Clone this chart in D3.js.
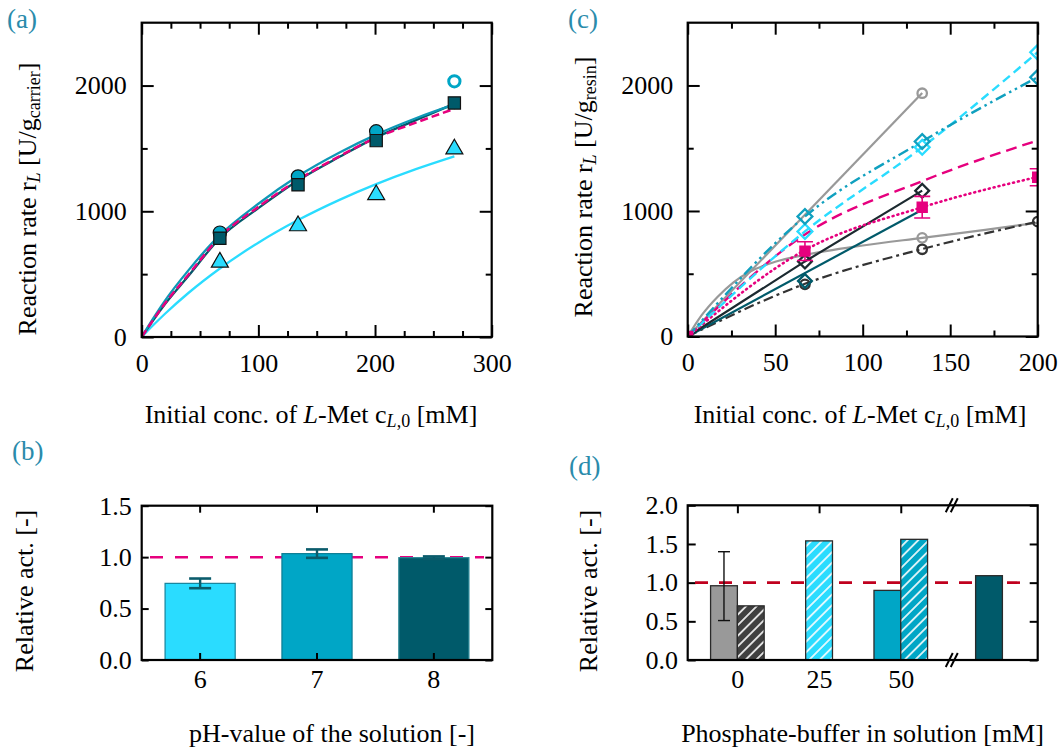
<!DOCTYPE html>
<html><head><meta charset="utf-8">
<script src="https://cdn.jsdelivr.net/npm/d3@7"></script>
<style>
html,body{margin:0;padding:0;background:#fff;}
svg{display:block;}
svg text{font-family:"Liberation Serif","Times New Roman",serif !important;}
</style></head><body>
<svg id="fig" width="1064" height="752"></svg>
<script>
// ---------- data ----------
// (a) activity per gram carrier vs initial L-Met concentration
const aMeasX = [67, 134, 201, 268];
const aCircleRates = [830, 1277, 1636, 2034];   // last point is an outlier (open symbol)
const aSquareRates = [786, 1211, 1562, 1862];
const aTriangleRates = [595, 884, 1131, 1495];
const aFitX = [0, 10, 20, 40, 67, 100, 134, 170, 201, 235, 268];
const aFitTeal = [0, 150, 290, 530, 810, 1060, 1280, 1470, 1610, 1740, 1850];
const aFitDark = [0, 135, 262, 485, 786, 1025, 1245, 1435, 1588, 1725, 1855];
const aFitMagenta = [0, 138, 268, 495, 795, 1035, 1250, 1440, 1585, 1705, 1815];
const aFitLight = [0, 95, 185, 350, 545, 750, 930, 1093, 1216, 1335, 1437];

// (c) activity per gram resin
const cFitX = [0, 67, 134, 200];
const cGrayLineX = [0, 134];
const cGrayLineY = [0, 1940];
const cGrayCurveX = [0, 8, 17, 26, 36, 50, 67, 100, 134, 170, 200];
const cGrayCurveY = [0, 170, 315, 430, 520, 595, 650, 725, 786, 850, 906];
const cGrayCircleX = [134, 134];
const cGrayCircleY = [1938, 786];
const cBlackX = [0, 67, 134];
const cBlackY = [0, 598, 1162];
const cDarkTealX = [0, 134];
const cDarkTealY = [0, 1010];
const cDarkTealDiamondX = [67];
const cDarkTealDiamondY = [443];
const cDashDotY = [0, 420, 697, 915];
const cDashDotCircleX = [67, 134, 200];
const cDashDotCircleY = [416, 695, 915];
const cTealY = [0, 956, 1554, 2066];
const cLightY = [0, 837, 1508, 2265];
const cMagDashY = [0, 813, 1238, 1562];
const cMagDotY = [0, 688, 1030, 1272];
const cMagSquareY = [0, 680, 1030, 1269];
const cMagErr = [0, 75, 86, 68];

// (b) relative activity vs pH
const pHCategories = ["6", "7", "8"];
const pHValues = [0.745, 1.034, 0.995];
const pHErrors = [0.047, 0.041, 0.012];

// (d) relative activity vs phosphate buffer
const bufferTicks = [0, 25, 50];
const bufferBarPos = [0, 0, 25, 50, 50, 77];
const bufferBarSide = [-1, 0, -0.5, -1, 0, -0.5];
const bufferValues = [0.96, 0.70, 1.54, 0.90, 1.56, 1.09];
const bufferErrLow = [0.51];
const bufferErrHigh = [1.40];
const bufferBreak = 65.6;

// ---------- colours ----------
const C = {
  light: "#2adcff", teal: "#00a6c6", dark: "#005a6a", magenta: "#e6007e",
  gray: "#999999", black: "#1c2a30", dashdot: "#333333", red: "#c0001e",
  label: "#2a8bab"
};

const svg = d3.select("#fig");
const FS = 26;
svg.append("rect").attr("width", 1064).attr("height", 752).attr("fill", "#fff");

const defs = svg.append("defs");
function hatch(id, color) {
  const p = defs.append("pattern").attr("id", id).attr("patternUnits", "userSpaceOnUse")
    .attr("width", 7.5).attr("height", 7.5).attr("patternTransform", "rotate(45)");
  p.append("rect").attr("width", 7.5).attr("height", 7.5).attr("fill", color);
  p.append("line").attr("x1", 3.75).attr("x2", 3.75).attr("y1", 0).attr("y2", 7.5)
    .attr("stroke", "#fff").attr("stroke-width", 1.6);
}
hatch("h-dark", "#404040");
hatch("h-light", C.light);
hatch("h-teal", C.teal);

function clip(id, x0, x1, y0, y1) {
  defs.append("clipPath").attr("id", id).append("rect")
    .attr("x", x0).attr("y", y0).attr("width", x1 - x0).attr("height", y1 - y0);
}

function frame(x0, x1, y0, y1) {
  svg.append("rect").attr("x", x0).attr("y", y0).attr("width", x1 - x0).attr("height", y1 - y0)
    .attr("fill", "none").attr("stroke", "#000").attr("stroke-width", 2.2);
}

function axes(x, y, opt) {
  const [x0, x1] = x.range(), [y1, y0] = y.range();
  const style = g => {
    g.attr("font-size", FS).attr("font-family", "Liberation Serif");
    g.select(".domain").remove();
    g.selectAll("line").attr("stroke", "#000").attr("stroke-width", 2);
    g.selectAll("text").attr("font-size", FS).attr("fill", "#000");
  };
  const bx = opt.xAxis || d3.axisBottom(x).tickValues(opt.xMajor).tickFormat(opt.xFmt || d3.format("d"));
  svg.append("g").attr("transform", `translate(0,${y1})`)
    .call(bx.tickSize(-opt.major).tickPadding(opt.xPad)).call(style);
  svg.append("g").attr("transform", `translate(0,${y0})`)
    .call((opt.xTopAxis || d3.axisTop(x).tickValues(opt.xMajor)).tickSize(-opt.major).tickFormat("")).call(style);
  svg.append("g").attr("transform", `translate(${x0},0)`)
    .call(d3.axisLeft(y).tickValues(opt.yMajor).tickSize(-opt.major).tickPadding(opt.yPad).tickFormat(opt.yFmt || d3.format("d"))).call(style);
  svg.append("g").attr("transform", `translate(${x1},0)`)
    .call(d3.axisRight(y).tickValues(opt.yMajor).tickSize(-opt.major).tickFormat("")).call(style);
  if (opt.xMinor) {
    svg.append("g").attr("transform", `translate(0,${y1})`).call(d3.axisBottom(x).tickValues(opt.xMinor).tickSize(-opt.minor).tickFormat("")).call(style);
    svg.append("g").attr("transform", `translate(0,${y0})`).call(d3.axisTop(x).tickValues(opt.xMinor).tickSize(-opt.minor).tickFormat("")).call(style);
  }
  if (opt.yMinor) {
    svg.append("g").attr("transform", `translate(${x0},0)`).call(d3.axisLeft(y).tickValues(opt.yMinor).tickSize(-opt.minor).tickFormat("")).call(style);
    svg.append("g").attr("transform", `translate(${x1},0)`).call(d3.axisRight(y).tickValues(opt.yMinor).tickSize(-opt.minor).tickFormat("")).call(style);
  }
}

function richText(x, y, parts, rotate, anchor) {
  const t = svg.append("text").attr("font-size", FS).attr("text-anchor", anchor || "middle")
    .attr("transform", `translate(${x},${y})` + (rotate ? " rotate(-90)" : ""));
  parts.forEach(p => {
    const s = t.append("tspan").text(p.t);
    if (p.i) s.attr("font-style", "italic");
    if (p.sub) s.attr("font-size", 18).attr("baseline-shift", "-22%");
  });
  return t;
}

function panelLabel(x, y, s) {
  svg.append("text").attr("x", x).attr("y", y).attr("font-size", 27).attr("fill", C.label).text(s);
}

const xTitle = [{t: "Initial conc. of "}, {t: "L", i: true}, {t: "-Met c"}, {t: "L", i: true, sub: true}, {t: ",0", sub: true}, {t: " [mM]"}];

// ================= (a) =================
{
  const x = d3.scaleLinear().domain([0, 300]).range([141.7, 491.7]);
  const y = d3.scaleLinear().domain([0, 2500]).range([337, 22.7]);
  clip("clipA", 141.7, 491.7, 22.7, 337);
  const g = svg.append("g").attr("clip-path", "url(#clipA)");
  const line = (xs, ys) => d3.line().x((d, i) => x(xs[i])).y(d => y(d)).curve(d3.curveMonotoneX)(ys);
  g.append("path").attr("d", line(aFitX, aFitLight)).attr("fill", "none").attr("stroke", C.light).attr("stroke-width", 2.3);
  g.append("path").attr("d", line(aFitX, aFitDark)).attr("fill", "none").attr("stroke", C.dark).attr("stroke-width", 2.3);
  g.append("path").attr("d", line(aFitX, aFitTeal)).attr("fill", "none").attr("stroke", "#0e98b6").attr("stroke-width", 2.3);
  g.append("path").attr("d", line(aFitX, aFitMagenta)).attr("fill", "none").attr("stroke", C.magenta).attr("stroke-width", 2.5).attr("stroke-dasharray", "8,4");

  const sym = (type, size) => d3.symbol().type(type).size(size)();
  aMeasX.forEach((cx, i) => {
    const open = i === aMeasX.length - 1;
    g.append("path").attr("d", open ? sym(d3.symbolCircle, 100) : sym(d3.symbolCircle, 140))
      .attr("transform", `translate(${x(cx)},${y(aCircleRates[i])})`)
      .attr("fill", open ? "#fff" : C.teal).attr("stroke", open ? C.teal : "#111").attr("stroke-width", open ? 3 : 1.2);
  });
  aMeasX.forEach((cx, i) => {
    g.append("path").attr("d", sym(d3.symbolSquare, 150))
      .attr("transform", `translate(${x(cx)},${y(aSquareRates[i])})`)
      .attr("fill", C.dark).attr("stroke", "#111").attr("stroke-width", 1.2);
  });
  aMeasX.forEach((cx, i) => {
    g.append("path").attr("d", sym(d3.symbolTriangle, 125))
      .attr("transform", `translate(${x(cx)},${y(aTriangleRates[i])})`)
      .attr("fill", C.light).attr("stroke", "#111").attr("stroke-width", 1.2);
  });

  axes(x, y, {major: 12, minor: 6, xMajor: [0, 100, 200, 300], xMinor: [25, 50, 75, 125, 150, 175, 225, 250, 275],
    yMajor: [0, 1000, 2000], yMinor: [500, 1500], xPad: 16.5, yPad: 15});
  frame(141.7, 491.7, 22.7, 337);
  richText(311, 423, xTitle);
  richText(36, 199, [{t: "Reaction rate r"}, {t: "L", i: true, sub: true}, {t: " [U/g"}, {t: "carrier", sub: true}, {t: "]"}], true);
  panelLabel(7, 28, "(a)");
}

// ================= (c) =================
{
  const x = d3.scaleLinear().domain([0, 200]).range([687.7, 1037.7]);
  const y = d3.scaleLinear().domain([0, 2500]).range([336.5, 22.7]);
  clip("clipC", 687.7, 1037.7, 22.7, 336.5);
  const g = svg.append("g").attr("clip-path", "url(#clipC)");
  const path = (xs, ys, curve) => d3.line().x((d, i) => x(xs[i])).y(d => y(d)).curve(curve || d3.curveMonotoneX)(ys);
  const draw = (d, color, w, dash) => g.append("path").attr("d", d).attr("fill", "none").attr("stroke", color)
    .attr("stroke-width", w).attr("stroke-dasharray", dash || null).attr("stroke-linecap", dash === "1,4" ? "round" : "butt");

  draw(path(cGrayCurveX, cGrayCurveY), C.gray, 2.2);
  draw(path(cFitX, cDashDotY), C.dashdot, 2.2, "10,4,3,4");
  draw(path(cDarkTealX, cDarkTealY, d3.curveLinear), C.dark, 2.2);
  draw(path(cBlackX, cBlackY, d3.curveLinear), C.black, 2.2);
  draw(path(cGrayLineX, cGrayLineY, d3.curveLinear), C.gray, 2.2);
  draw(path(cFitX, cMagDotY), C.magenta, 2.6, "1,4");
  draw(path(cFitX, cMagDashY), C.magenta, 2.4, "11,6");
  draw(path(cFitX, cLightY), C.light, 2.4, "9,5");
  draw(path(cFitX, cTealY), "#10a0bf", 2.4, "11,4,2.5,4,2.5,4");

  const sym = (type, size) => d3.symbol().type(type).size(size)();
  const openMark = (cx, cy, type, size, color, rot) =>
    g.append("path").attr("d", sym(type, size))
      .attr("transform", `translate(${x(cx)},${y(cy)})` + (rot ? " rotate(45)" : ""))
      .attr("fill", "none").attr("stroke", color).attr("stroke-width", 2.3);

  cGrayCircleX.forEach((cx, i) => openMark(cx, cGrayCircleY[i], d3.symbolCircle, 70, C.gray));
  cDashDotCircleX.forEach((cx, i) => openMark(cx, cDashDotCircleY[i], d3.symbolCircle, 70, C.dashdot));
  cDarkTealDiamondX.forEach((cx, i) => openMark(cx, cDarkTealDiamondY[i], d3.symbolSquare, 95, C.dark, true));
  cBlackX.slice(1).forEach((cx, i) => openMark(cx, cBlackY[i + 1], d3.symbolSquare, 95, C.black, true));
  cFitX.slice(1).forEach((cx, i) => openMark(cx, cLightY[i + 1], d3.symbolSquare, 110, C.light, true));
  cFitX.slice(1).forEach((cx, i) => openMark(cx, cTealY[i + 1], d3.symbolSquare, 110, "#10a0bf", true));

  // magenta squares with error bars
  cFitX.forEach((cx, i) => {
    const e = cMagErr[i];
    if (e > 0) {
      const px = x(cx);
      g.append("line").attr("x1", px).attr("x2", px).attr("y1", y(cMagSquareY[i] - e)).attr("y2", y(cMagSquareY[i] + e)).attr("stroke", C.magenta).attr("stroke-width", 1.6);
      [cMagSquareY[i] - e, cMagSquareY[i] + e].forEach(v =>
        g.append("line").attr("x1", px - 8).attr("x2", px + 8).attr("y1", y(v)).attr("y2", y(v)).attr("stroke", C.magenta).attr("stroke-width", 1.6));
    }
    g.append("path").attr("d", sym(d3.symbolSquare, 130))
      .attr("transform", `translate(${x(cx)},${y(cMagSquareY[i])})`).attr("fill", C.magenta);
  });

  axes(x, y, {major: 12, minor: 6, xMajor: [0, 50, 100, 150, 200], xMinor: [25, 75, 125, 175],
    yMajor: [0, 1000, 2000], yMinor: [500, 1500], xPad: 16.5, yPad: 14.4});
  frame(687.7, 1037.7, 22.7, 336.5);
  richText(860, 423, xTitle);
  richText(592, 187, [{t: "Reaction rate r"}, {t: "L", i: true, sub: true}, {t: " [U/g"}, {t: "resin", sub: true}, {t: "]"}], true);
  panelLabel(568, 28, "(c)");
}

// ================= (b) =================
{
  const x = d3.scaleBand().domain(pHCategories).range([141.7, 492.3]).paddingInner(0.4).paddingOuter(0.2);
  const y = d3.scaleLinear().domain([0, 1.5]).range([660, 505.7]);
  const fills = [C.light, C.teal, C.dark];
  const strokes = ["#15839c", "#0b7c93", "#2b8796"];
  // reference line sits behind the bars
  svg.append("line").attr("x1", 150).attr("x2", 484).attr("y1", y(1)).attr("y2", y(1))
    .attr("stroke", C.magenta).attr("stroke-width", 2.5).attr("stroke-dasharray", "13,12");
  pHCategories.forEach((c, i) => {
    svg.append("rect").attr("x", x(c)).attr("y", y(pHValues[i])).attr("width", x.bandwidth())
      .attr("height", y(0) - y(pHValues[i])).attr("fill", fills[i]).attr("stroke", strokes[i]).attr("stroke-width", 1.2);
  });
  pHCategories.forEach((c, i) => {
    const cx = x(c) + x.bandwidth() / 2, lo = pHValues[i] - pHErrors[i], hi = pHValues[i] + pHErrors[i];
    svg.append("line").attr("x1", cx).attr("x2", cx).attr("y1", y(lo)).attr("y2", y(hi)).attr("stroke", "#0b5c6c").attr("stroke-width", 2.4);
    [lo, hi].forEach(v => svg.append("line").attr("x1", cx - 11).attr("x2", cx + 11).attr("y1", y(v)).attr("y2", y(v)).attr("stroke", "#0b5c6c").attr("stroke-width", 2.6));
  });
  axes(x, y, {major: 7, xAxis: d3.axisBottom(x), xTopAxis: d3.axisTop(x), xFmt: d => d,
    yMajor: [0, 0.5, 1.0, 1.5], yFmt: d3.format(".1f"), xPad: 10, yPad: 10});
  frame(141.7, 492.3, 505.7, 660);
  richText(332, 741.7, [{t: "pH-value of the solution [-]"}]);
  richText(33, 591, [{t: "Relative act. [-]"}], true);
  panelLabel(12, 460, "(b)");
}

// ================= (d) =================
{
  const x = d3.scaleLinear().domain([-15.2, 91.9]).range([687.7, 1037.7]);
  const y = d3.scaleLinear().domain([0, 2.0]).range([660, 505.3]);
  const bw = x(8.2) - x(0);
  const fills = ["#999999", "url(#h-dark)", "url(#h-light)", C.teal, "url(#h-teal)", C.dark];
  // ticks and reference line drawn under the bars
  axes(x, y, {major: 8, xMajor: bufferTicks, yMajor: [0, 0.5, 1.0, 1.5, 2.0], yFmt: d3.format(".1f"), xPad: 10, yPad: 9.7});
  svg.append("line").attr("x1", 695).attr("x2", 1031).attr("y1", y(1)).attr("y2", y(1))
    .attr("stroke", C.red).attr("stroke-width", 2.6).attr("stroke-dasharray", "13,11");
  bufferBarPos.forEach((p, i) => {
    const left = x(p) + bufferBarSide[i] * bw;
    svg.append("rect").attr("x", left).attr("y", y(bufferValues[i])).attr("width", bw)
      .attr("height", y(0) - y(bufferValues[i])).attr("fill", fills[i]).attr("stroke", "#2a2a2a").attr("stroke-width", 1.3);
  });
  bufferErrLow.forEach((lo, i) => {
    const cx = x(bufferBarPos[i]) + (bufferBarSide[i] + 0.5) * bw, hi = bufferErrHigh[i];
    svg.append("line").attr("x1", cx).attr("x2", cx).attr("y1", y(lo)).attr("y2", y(hi)).attr("stroke", "#111").attr("stroke-width", 1.4);
    [lo, hi].forEach(v => svg.append("line").attr("x1", cx - 6).attr("x2", cx + 6).attr("y1", y(v)).attr("y2", y(v)).attr("stroke", "#111").attr("stroke-width", 1.4));
  });
  frame(687.7, 1037.7, 505.3, 660);
  // axis break marks
  const bx = x(bufferBreak);
  [505.3, 660].forEach(yy => {
    [-2.5, 2.5].forEach(o => svg.append("line").attr("x1", bx + o - 3.5).attr("x2", bx + o + 3.5)
      .attr("y1", yy + 7).attr("y2", yy - 7).attr("stroke", "#000").attr("stroke-width", 2));
  });
  richText(862.5, 741.7, [{t: "Phosphate-buffer in solution [mM]"}]);
  richText(597, 591, [{t: "Relative act. [-]"}], true);
  panelLabel(569, 475, "(d)");
}
</script>
</body></html>
